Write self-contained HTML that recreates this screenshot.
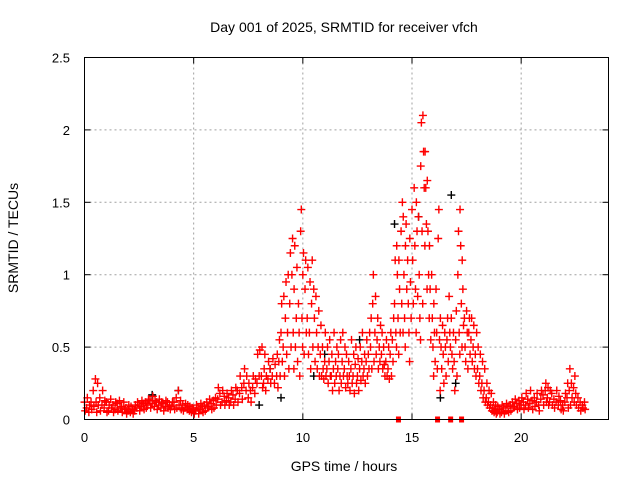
<!DOCTYPE html>
<html><head><meta charset="utf-8"><style>
html,body{margin:0;padding:0;background:#fff;}
svg{display:block;font-family:"Liberation Sans",sans-serif;}
</style></head><body>
<svg id="chart" width="640" height="480">
<rect width="640" height="480" fill="#fff"/>
<text x="344" y="32" font-size="14" text-anchor="middle">Day 001 of 2025, SRMTID for receiver vfch</text>
<text x="344" y="471" font-size="14" text-anchor="middle">GPS time / hours</text>
<text x="18" y="238" font-size="14" text-anchor="middle" transform="rotate(-90 18 238)">SRMTID / TECUs</text>
<g id="grid"></g><g id="axes"></g><g id="marks"></g>
<rect x="84.5" y="57.5" width="524" height="362" fill="none" stroke="#000"/>
</svg>
<script>
const xTicks=[0,5,10,15,20];
const yTicks=[0,0.5,1,1.5,2,2.5];
const yTickLabels=["0","0.5","1","1.5","2","2.5"];
const redRows=[
[0.12,0.06],[0.08,0.15],[0.05,0.1],[0.12,0.07],[0.2,0.09],[0.28,0.12,0.05],[0.25,0.1],[0.15,0.06],[0.1,0.2],[0.08,0.13],[0.12,0.05],[0.06,0.1],[0.14,0.08],[0.1,0.05],[0.07,0.12],[0.11,0.06],[0.13,0.08],[0.09,0.05],[0.12,0.07],[0.08,0.04],[0.06,0.1],
[0.05,0.09],[0.07,0.04],[0.06,0.1],[0.08,0.12],[0.1,0.06],[0.09,0.13],[0.11,0.07],[0.12,0.08],[0.1,0.14],[0.13,0.08],
[0.11,0.16],[0.09,0.13],[0.12,0.07],[0.1,0.14],[0.08,0.12],[0.11,0.06],[0.09,0.13],[0.12,0.08],[0.1,0.07],[0.09,0.12],
[0.12,0.07],[0.15,0.08],[0.2,0.1],[0.13,0.07],[0.1,0.06],[0.08,0.11],[0.07,0.1],[0.06,0.09],[0.05,0.08],[0.07,0.04],
[0.06,0.1],[0.08,0.04],[0.07,0.11],[0.09,0.05],[0.1,0.06],[0.12,0.08],[0.09,0.14],[0.11,0.07],[0.13,0.08],[0.15,0.1],
[0.14,0.22],[0.18,0.1],[0.12,0.2],[0.16,0.1],[0.13,0.18],[0.15,0.1],[0.12,0.2],[0.17,0.1],[0.14,0.22],[0.2,0.12],
[0.18,0.3],[0.22,0.14],[0.25,0.35],[0.2,0.3],[0.15,0.25],[0.2,0.12],[0.22,0.3],[0.18,0.28],[0.25,0.45],[0.3,0.48],
[0.3,0.5,0.22],[0.25,0.35,0.45],[0.2,0.3],[0.28,0.4],[0.35,0.25],[0.3,0.42],[0.25,0.38],[0.3,0.45,0.22],[0.4,0.55,0.3],[0.6,0.8,0.4],
[0.5,0.85,0.3],[0.7,0.95,0.45],[0.6,1.0,0.35],[0.8,1.15,0.5],[1.0,1.25,0.6,0.35],[0.9,1.2,0.5],[0.7,1.05,0.4],[0.8,0.6,0.3],[1.3,1.45,0.7,0.5],[1.0,1.15,0.45],
[0.9,1.1,0.6],[0.7,1.05,0.45],[0.6,0.95,0.35],[0.8,1.1,0.5],[0.9,0.7,0.4],[0.85,0.6,0.35],[0.5,0.75,0.3],[0.45,0.65,0.3],[0.5,0.35,0.28],[0.4,0.6,0.3],
[0.35,0.5,0.25],[0.4,0.55,0.3],[0.3,0.45,0.2],[0.35,0.6,0.25],[0.4,0.3,0.5],[0.35,0.45,0.2],[0.3,0.55,0.25],[0.4,0.6,0.3],[0.35,0.5,0.22],[0.45,0.3,0.25],
[0.4,0.3,0.2],[0.35,0.55,0.25],[0.3,0.45,0.18],[0.38,0.5,0.25],[0.3,0.42,0.2],[0.35,0.5,0.27],[0.4,0.6,0.3],[0.35,0.45,0.25],[0.4,0.55,0.3],[0.45,0.35,0.6],
[0.5,0.7,0.35],[0.8,1.0,0.4],[0.6,0.85,0.45],[0.55,0.7,0.35],[0.5,0.4,0.65],[0.45,0.6,0.35],[0.5,0.38,0.3],[0.4,0.55,0.3],[0.35,0.5,0.28],[0.45,0.6,0.3],
[0.55,0.4,0.7],[0.8,1.1,0.6,0.5],[1.2,1.0,0.7,0.45],[1.1,0.9,0.6],[1.3,0.8,1.5,0.6],[1.4,1.0,0.7,0.5],[1.2,1.35,0.9],[1.1,0.8,0.6,0.4],[1.25,0.95,0.7],[1.45,1.1,0.8],
[1.6,1.2,0.9,0.6],[1.5,1.3,0.85],[1.4,1.0,0.7,0.55],[1.75,2.05,1.3,0.8],[2.1,1.85,1.6,1.2],[1.85,1.6,1.35,0.9],[1.65,1.3,1.0,0.7],[1.2,0.9,0.55],[1.0,0.7,0.5,0.3],[0.8,0.6,0.4],
[0.9,0.6,0.35],[1.25,1.45,0.55,0.2],[0.7,0.5,0.35],[0.65,0.45,0.25],[0.6,0.5,0.3],[0.55,0.7,0.4],[0.85,0.6,0.5],[0.7,0.45,0.35],[0.6,0.4,0.2],[0.55,0.75,0.3],
[1.0,1.3,0.6,0.45],[1.45,1.2,0.8,0.5],[1.1,0.9,0.65],[0.7,0.5,0.4],[0.75,0.6,0.35],[0.6,0.7,0.45],[0.55,0.7,0.4],[0.5,0.65,0.35],[0.45,0.3,0.6],[0.35,0.5,0.25],
[0.3,0.45,0.2],[0.25,0.4,0.15],[0.2,0.35,0.12],[0.15,0.25,0.1],[0.12,0.2,0.08],[0.1,0.18,0.06],[0.08,0.12,0.05],[0.06,0.1,0.04],[0.05,0.09],[0.07,0.04],
[0.05,0.1],[0.08,0.04],[0.06,0.11],[0.09,0.05],[0.1,0.06],[0.12,0.08],[0.09,0.14],[0.11,0.07],[0.13,0.08],[0.1,0.15],
[0.12,0.07],[0.1,0.18],[0.14,0.08],[0.11,0.2],[0.13,0.07],[0.15,0.09],[0.12,0.18],[0.1,0.06],[0.14,0.2],[0.17,0.1],
[0.2,0.25,0.12],[0.15,0.22,0.1],[0.12,0.2],[0.18,0.1],[0.14,0.08],[0.12,0.2],[0.1,0.16],[0.13,0.07],[0.1,0.06],[0.12,0.18],
[0.15,0.25,0.08],[0.2,0.35,0.1],[0.25,0.15],[0.22,0.12,0.3],[0.18,0.1],[0.15,0.08],[0.12,0.06],[0.1,0.08],[0.12,0.07]
];
const rowStepHours=0.1;
const blackTimes=[3.1,4.3,8.0,8.5,9.0,10.5,11.0,12.6,14.2,15.3,16.3,16.8,17.0];
const blackValues=[0.17,0.2,0.1,0.35,0.15,0.3,0.45,0.55,1.35,1.4,0.15,1.55,0.25];
const flagTimes=[14.38,16.17,16.77,17.27];

const X0=84.5,X1=608.5,Y0=419.5,Y1=57.5;
const xs=h=>X0+(h/24)*(X1-X0);
const ys=v=>Y0-(v/2.5)*(Y0-Y1);
const NS="http://www.w3.org/2000/svg";
function mk(tag,attrs,parent){const e=document.createElementNS(NS,tag);for(const k in attrs)e.setAttribute(k,attrs[k]);parent.appendChild(e);return e;}
const grid=document.getElementById('grid'),axes=document.getElementById('axes'),marks=document.getElementById('marks');
xTicks.forEach(t=>{
  const x=xs(t);
  if(t>0){const g=mk('line',{x1:x,x2:x,y1:Y0,y2:Y1,stroke:'#a0a0a0','stroke-dasharray':'2,3'},grid);
  
  }
  mk('line',{x1:x,x2:x,y1:Y0,y2:Y0-6,stroke:'#000'},axes);
  mk('line',{x1:x,x2:x,y1:Y1,y2:Y1+6,stroke:'#000'},axes);
  const l=mk('text',{x:x,y:442,'font-size':13,'text-anchor':'middle'},axes);l.textContent=t;
  
  
});
yTicks.forEach((t,i)=>{
  const y=ys(t);
  if(t>0&&t<2.5){const g=mk('line',{x1:X0,x2:X1,y1:y,y2:y,stroke:'#a0a0a0','stroke-dasharray':'2,3'},grid);
  
  }
  mk('line',{x1:X0,x2:X0+6,y1:y,y2:y,stroke:'#000'},axes);
  mk('line',{x1:X1,x2:X1-6,y1:y,y2:y,stroke:'#000'},axes);
  const l=mk('text',{x:70,y:y+5,'font-size':13,'text-anchor':'end'},axes);l.textContent=yTickLabels[i];
  
  
});
function plus(h,v,color,name){
  const x=xs(h),y=ys(v);
  const p=mk('path',{d:`M${x-4},${y}H${x+4}M${x},${y-4}V${y+4}`,stroke:color,'stroke-width':1.4,fill:'none'},marks);
  
  
}
blackTimes.forEach((t,i)=>plus(t,blackValues[i],'#000','black-point'));
redRows.forEach((row,i)=>{
  row.forEach((v,j)=>plus(i*rowStepHours+j*0.03,v,'#ff0000','red-point'));
});
flagTimes.forEach(t=>{
  const r=mk('rect',{x:xs(t)-2.5,y:Y0-3,width:5,height:6,fill:'#ff0000'},marks);
  
  
});
</script>
</body></html>
